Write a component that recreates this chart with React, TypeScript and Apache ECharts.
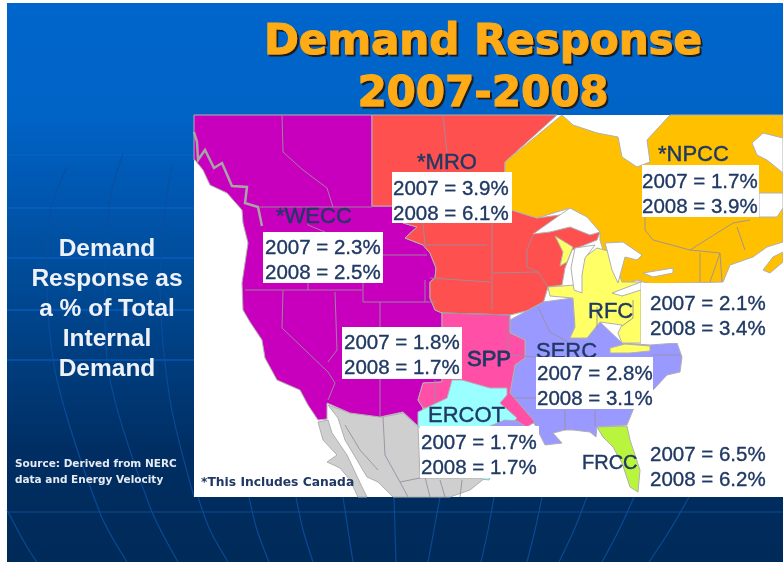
import React, { useEffect, useRef } from "react";
import * as echarts from "echarts";

type P = [number, number];

const regionNames = ["WECC", "MRO", "NPCC", "RFC", "SPP", "SERC", "ERCOT", "FRCC"];
const values2007 = ["2.3", "3.9", "1.7", "2.1", "1.8", "2.8", "1.7", "6.5"];
const values2008 = ["2.5", "6.1", "3.9", "3.4", "1.7", "3.1", "1.7", "6.2"];
const sideLines = ["Demand", "Response as", "a % of Total", "Internal", "Demand"];
const sourceLines = ["Source: Derived from NERC", "data and Energy Velocity"];
const titleLines = ["Demand Response", "2007-2008"];
const footnote = "*This Includes Canada";

const mexico: P[] = [[328,405],[350,413],[383,417],[403,413],[418,426],[420,478],[485,478],[470,490],[450,497],[393,497],[378,482],[367,477],[357,460],[345,440],[338,418]];
const baja: P[] = [[318,422],[328,420],[332,433],[347,455],[362,487],[367,497],[358,497],[350,480],[340,468],[327,462],[337,455],[323,440]];
const wecc: P[] = [[194,115],[372,115],[372,206],[410,206],[403,223],[417,227],[405,238],[423,245],[430,253],[436,268],[435,278],[430,282],[430,298],[435,310],[442,313],[442,382],[423,383],[418,400],[423,408],[418,426],[403,412],[380,417],[350,413],[327,403],[327,419],[318,420],[308,405],[300,390],[277,380],[265,358],[262,340],[250,322],[243,310],[242,283],[248,243],[243,223],[242,210],[227,193],[210,185],[203,170],[195,160],[194,160]];
const mro: P[] = [[372,115],[557,115],[505,162],[505,208],[537,218],[560,215],[600,232],[597,240],[572,250],[565,268],[562,285],[548,287],[542,307],[510,315],[442,313],[435,310],[430,298],[430,282],[435,278],[436,268],[430,253],[423,245],[405,238],[417,227],[403,223],[410,206],[372,206]];
const npcc: P[] = [[562,115],[573,125],[597,133],[618,137],[622,157],[637,167],[650,162],[647,140],[670,115],[783,115],[783,242],[767,247],[753,257],[730,265],[723,282],[650,284],[637,280],[620,287],[612,280],[600,240],[600,232],[570,208],[537,218],[505,208],[505,162]];
const novaScotia: P[] = [[763,270],[773,257],[783,252],[783,262],[770,273]];
const serc: P[] = [[510,320],[543,302],[573,298],[575,327],[570,338],[587,338],[600,322],[622,343],[650,345],[677,343],[682,357],[680,372],[667,375],[655,388],[633,410],[627,425],[597,427],[596,437],[590,432],[573,430],[565,430],[553,433],[562,443],[545,445],[535,425],[510,393],[515,365],[525,358],[525,340],[510,333]];
const sercCoast: P[] = [[490,426],[505,420],[517,421],[528,428],[490,428]];
const rfc: P[] = [[548,287],[575,285],[585,257],[597,248],[612,252],[622,282],[641,282],[641,343],[622,343],[618,333],[622,325],[600,322],[587,338],[570,338],[575,327],[573,298],[550,296]];
const rfcNorth: P[] = [[555,236],[573,247],[567,262],[560,266],[563,252]];
const rfcSouth: P[] = [[610,348],[625,344],[650,346],[650,351],[630,353],[610,353]];
const spp: P[] = [[442,313],[510,315],[510,333],[525,340],[525,358],[515,365],[510,393],[535,422],[525,428],[500,420],[480,400],[447,408],[423,408],[418,400],[423,383],[442,382]];
const ercot: P[] = [[452,380],[462,380],[490,388],[507,388],[507,395],[500,403],[517,418],[510,426],[500,445],[489,480],[482,479],[418,426],[418,412],[428,407],[447,398]];
const frcc: P[] = [[597,427],[627,426],[630,440],[640,470],[638,492],[630,487],[622,463],[613,447],[603,437]];
const lakeSuperior: P[] = [[533,234],[557,217],[570,208],[587,217],[600,232],[590,235],[570,227],[550,232]];
const lakeMichigan: P[] = [[575,248],[595,245],[585,258],[582,275],[582,293],[574,290],[571,268]];
const lakeHuron: P[] = [[605,243],[623,242],[642,255],[637,260],[625,257],[618,283],[612,270],[607,250]];
const lakeErie: P[] = [[612,293],[641,282],[641,290],[622,296]];
const lakeOntario: P[] = [[643,273],[673,268],[673,273],[653,277]];
const labrador: P[] = [[752,143],[763,133],[783,138],[783,173],[767,160],[757,155]];
const stLawrence: P[] = [[759,193],[783,193],[783,208],[777,217],[759,217]];

const shapes: { fill: string; pts: P[] }[] = [
  { fill: "#cfcfcf", pts: mexico },
  { fill: "#cfcfcf", pts: baja },
  { fill: "#c800bd", pts: wecc },
  { fill: "#ff5050", pts: mro },
  { fill: "#ffc000", pts: npcc },
  { fill: "#ffc000", pts: novaScotia },
  { fill: "#9999ff", pts: serc },
  { fill: "#ffff66", pts: rfc },
  { fill: "#ffff66", pts: rfcNorth },
  { fill: "#ffff66", pts: rfcSouth },
  { fill: "#ff4fa7", pts: spp },
  { fill: "#99ffff", pts: ercot },
  { fill: "#9999ff", pts: sercCoast },
  { fill: "#b9f53c", pts: frcc },
  { fill: "#ffffff", pts: lakeSuperior },
  { fill: "#ffffff", pts: lakeMichigan },
  { fill: "#ffffff", pts: lakeHuron },
  { fill: "#ffffff", pts: lakeErie },
  { fill: "#ffffff", pts: lakeOntario },
  { fill: "#ffffff", pts: labrador },
  { fill: "#ffffff", pts: stLawrence },
];

const borders: P[][] = [
  [[282,115],[283,152],[303,170],[327,188],[333,207]],
  [[260,207],[372,207]],
  [[308,207],[308,225],[325,232]],
  [[423,223],[425,245],[487,245]],
  [[383,255],[427,255]],
  [[363,283],[363,302],[435,302]],
  [[425,280],[425,302]],
  [[245,290],[362,290]],
  [[308,283],[308,290]],
  [[283,290],[282,328],[328,372],[335,383],[328,400]],
  [[335,292],[337,350],[328,362]],
  [[380,302],[380,417]],
  [[443,115],[447,153]],
  [[430,278],[490,282]],
  [[492,223],[492,310]],
  [[493,273],[538,272],[527,267],[527,250],[533,235]],
  [[538,272],[548,287]],
  [[443,313],[510,315]],
  [[508,317],[508,357]],
  [[510,355],[536,357]],
  [[513,398],[536,398]],
  [[538,307],[550,332],[568,342]],
  [[565,410],[565,430]],
  [[595,410],[595,427]],
  [[653,355],[680,355]],
  [[597,307],[597,328]],
  [[633,300],[633,318],[622,326]],
  [[435,380],[435,403]],
  [[645,217],[645,230],[653,240],[690,250],[733,223],[750,220]],
  [[690,250],[720,253],[722,282]],
  [[700,253],[700,282]],
  [[720,253],[710,282]],
  [[737,227],[745,250]],
  [[345,425],[360,450],[378,470]],
  [[383,417],[385,455],[400,482],[408,497]],
  [[400,482],[425,477],[430,497]],
  [[440,480],[445,497]],
  [[462,480],[460,497]],
];
const coastFringe: P[] = [[194,132],[197,142],[198,160],[205,150],[214,168],[222,163],[232,186],[247,187],[245,203],[258,207],[262,226]];

const horizontalGuides = [155, 208, 258, 310, 360];
const curves: P[][] = [
  [[67,167],[50,213],[47,290],[57,380],[100,513],[127,562]],
  [[123,153],[110,200],[105,290],[110,380],[150,507],[178,562]],
  [[172,165],[165,210],[160,290],[170,400],[194,497]],
  [[7,510],[27,547],[37,562]],
  [[198,497],[210,530],[228,562]],
  [[249,497],[257,530],[269,562]],
  [[296,497],[303,530],[313,562]],
  [[343,497],[348,530],[353,562]],
  [[394,497],[395,530],[396,562]],
  [[440,497],[434,530],[428,562]],
  [[494,497],[488,530],[481,562]],
  [[542,497],[535,530],[527,562]],
  [[587,497],[574,530],[559,562]],
  [[634,497],[619,530],[602,562]],
  [[689,497],[670,530],[649,562]],
];

const boxes: [number, number, number, number][] = [
  [263, 232, 120, 51],
  [392, 172, 120, 51],
  [642, 165, 117, 52],
  [641, 283, 120, 60],
  [342, 327, 120, 52],
  [536, 357, 117, 52],
  [420, 426, 119, 52],
];
const boxTextAt: P[] = [
  [265, 246],
  [393, 187],
  [642, 180],
  [650, 302],
  [344, 341],
  [537, 372],
  [421, 441],
  [650, 453],
];
const nameAt: P[] = [
  [276, 226],
  [417, 172],
  [658, 164],
  [588, 321],
  [467, 369],
  [536, 361],
  [428, 425],
  [582, 472],
];
const namePrefix = ["*", "*", "*", "", "", "", "", ""];

const NAVY = "#1f3864";

export default function App() {
  const ref = useRef<HTMLDivElement>(null);
  useEffect(() => {
    const chart = echarts.init(ref.current!, undefined, { renderer: "svg" });
    const font = "Liberation Sans";
    const graphic: any[] = [];
    graphic.push({
      type: "rect",
      z: 0,
      shape: { x: 7, y: 3, width: 776, height: 559 },
      style: {
        fill: new echarts.graphic.LinearGradient(0, 0, 0, 1, [
          { offset: 0, color: "#0066cc" },
          { offset: 0.2, color: "#0063c6" },
          { offset: 0.5, color: "#004a96" },
          { offset: 0.8, color: "#002e63" },
          { offset: 1, color: "#002a58" },
        ]),
      },
    });
    horizontalGuides.forEach((y) =>
      graphic.push({
        type: "line",
        z: 1,
        shape: { x1: 7, y1: y, x2: 194, y2: y },
        style: { stroke: "#0a64cc", lineWidth: 1.2 },
      })
    );
    graphic.push({
      type: "line",
      z: 1,
      shape: { x1: 7, y1: 512, x2: 783, y2: 512 },
      style: { stroke: "#0c4a8e", lineWidth: 1.2 },
    });
    curves.forEach((points) =>
      graphic.push({
        type: "polyline",
        z: 1,
        shape: { points, smooth: 0.3 },
        style: { stroke: "#0a4f9f", lineWidth: 1.2, fill: "none", opacity: 0.85 },
      })
    );
    graphic.push({
      type: "rect",
      z: 1,
      shape: { x: 194, y: 115, width: 589, height: 382 },
      style: { fill: "#ffffff" },
    });
    titleLines.forEach((t, i) =>
      graphic.push({
        type: "text",
        z: 10,
        style: {
          text: t,
          x: 483,
          y: i === 0 ? 60 : 112,
          textAlign: "center",
          textVerticalAlign: "bottom",
          font: 'bold 42px "DejaVu Sans"',
          fill: "#ffab16",
          stroke: "#ffab16",
          lineWidth: 1,
          textShadowColor: "#1a1a1a",
          textShadowOffsetX: 2,
          textShadowOffsetY: 2,
          textShadowBlur: 1,
        },
      })
    );
    sideLines.forEach((t, i) =>
      graphic.push({
        type: "text",
        z: 10,
        style: {
          text: t,
          x: 107,
          y: 247 + i * 30,
          textAlign: "center",
          textVerticalAlign: "middle",
          font: `bold 24.5px "${font}"`,
          fill: "#eef2f8",
        },
      })
    );
    sourceLines.forEach((t, i) =>
      graphic.push({
        type: "text",
        z: 10,
        style: {
          text: t,
          x: 15,
          y: 463 + i * 16,
          textVerticalAlign: "middle",
          font: 'bold 10.5px "DejaVu Sans"',
          fill: "#e6eaf2",
        },
      })
    );
    regionNames.forEach((n, i) => {
      graphic.push({
        type: "text",
        z: 8,
        style: {
          text: namePrefix[i] + n,
          x: nameAt[i][0],
          y: nameAt[i][1],
          textVerticalAlign: "bottom",
          font: `${n === "FRCC" ? 20 : 22}px "${font}"`,
          fill: NAVY,
          stroke: NAVY,
          lineWidth: n === "SPP" ? 0.8 : 0.4,
        },
      });
    });
    boxes.forEach(([x, y, width, height]) =>
      graphic.push({
        type: "rect",
        z: 9,
        shape: { x, y, width, height },
        style: { fill: "#ffffff" },
      })
    );
    regionNames.forEach((_, i) => {
      [values2007[i], values2008[i]].forEach((v, k) =>
        graphic.push({
          type: "text",
          z: 10,
          style: {
            text: `${k === 0 ? 2007 : 2008} = ${v}%`,
            x: boxTextAt[i][0],
            y: boxTextAt[i][1] + k * 25,
            textVerticalAlign: "middle",
            font: `20.5px "${font}"`,
            fill: NAVY,
            stroke: NAVY,
            lineWidth: 0.35,
          },
        })
      );
    });
    graphic.push({
      type: "text",
      z: 10,
      style: {
        text: footnote,
        x: 201,
        y: 482,
        textVerticalAlign: "middle",
        font: 'bold 12.3px "DejaVu Sans"',
        fill: NAVY,
      },
    });

    chart.setOption({
      animation: false,
      grid: { left: 0, top: 0, right: 0, bottom: 0 },
      xAxis: { type: "value", min: 0, max: 783, show: false },
      yAxis: { type: "value", min: 0, max: 562, inverse: true, show: false },
      graphic: { elements: graphic },
      series: [
        {
          type: "custom",
          z: 3,
          silent: true,
          clip: false,
          coordinateSystem: "cartesian2d",
          data: shapes.map((_, i) => [i]),
          encode: { x: [], y: [] },
          renderItem: (params: any, api: any) => {
            const s = shapes[params.dataIndex];
            return {
              type: "polygon",
              shape: { points: s.pts.map((p) => api.coord(p)) },
              style: { fill: s.fill, stroke: "#b0b0b0", lineWidth: 1 },
            };
          },
        },
        {
          type: "custom",
          z: 4,
          silent: true,
          clip: false,
          coordinateSystem: "cartesian2d",
          data: borders.map((_, i) => [i]),
          encode: { x: [], y: [] },
          renderItem: (params: any, api: any) => ({
            type: "polyline",
            shape: { points: borders[params.dataIndex].map((p) => api.coord(p)) },
            style: { fill: "none", stroke: "#9a8fa0", lineWidth: 0.9 },
          }),
        },
        {
          type: "custom",
          z: 5,
          silent: true,
          clip: false,
          coordinateSystem: "cartesian2d",
          data: [[0]],
          encode: { x: [], y: [] },
          renderItem: (_: any, api: any) => ({
            type: "polyline",
            shape: { points: coastFringe.map((p) => api.coord(p)) },
            style: { fill: "none", stroke: "#a6a6a6", lineWidth: 2.5 },
          }),
        },
      ],
    });
    return () => chart.dispose();
  }, []);
  return (
    <div
      ref={ref}
      style={{ position: "absolute", left: 0, top: 0, width: 783, height: 562, filter: "blur(0.5px)" }}
    />
  );
}
